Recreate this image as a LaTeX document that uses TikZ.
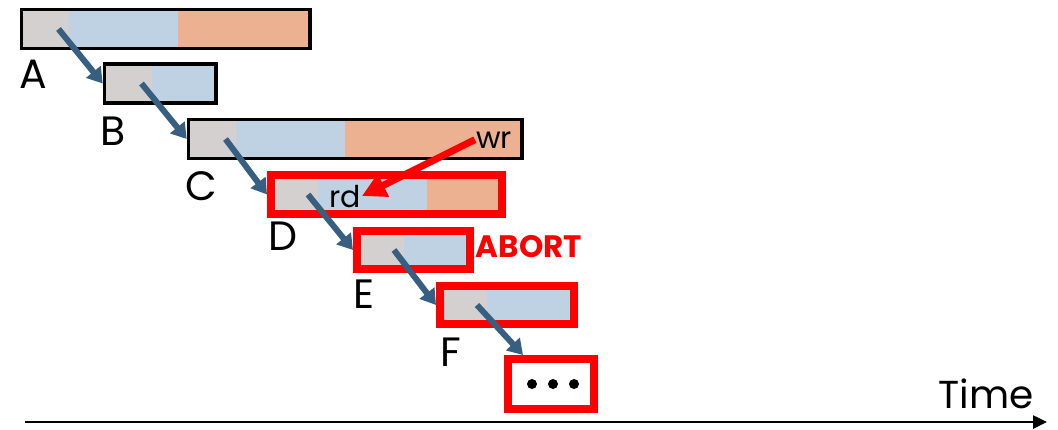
\documentclass[tikz,border=0pt]{standalone}
\usepackage{fontspec}
\setmainfont{Poppins}
\usetikzlibrary{positioning,fit,arrows.meta}

\definecolor{startgray}{RGB}{213,208,208}
\definecolor{readblue}{RGB}{190,210,228}
\definecolor{writeorange}{RGB}{235,177,145}
\definecolor{hopblue}{RGB}{55,95,130}

\begin{document}
\begin{tikzpicture}[x=1pt, y=-1pt,
    seg/.style={rectangle, inner sep=0pt, outer sep=0pt, minimum height=39pt},
    st/.style={seg, fill=startgray, minimum width=47pt, anchor=west},
    rds/.style={seg, fill=readblue},
    wrs/.style={seg, fill=writeorange},
    txn/.style={draw=black, line width=3.5pt, inner sep=0pt},
    aborted/.style={draw=red, line width=8pt, inner sep=0pt},
    joblabel/.style={font=\fontsize{41}{45}\selectfont, anchor=base, inner sep=0pt},
    opname/.style={font=\fontsize{30}{34}\selectfont, anchor=base, inner sep=1pt},
    hop/.style={-{Triangle[length=15pt,width=18pt]}, line width=6pt, draw=hopblue},
    conflict/.style={-{Triangle[length=24pt,width=24pt]}, line width=7pt, draw=red}]
  \useasboundingbox (0,0) rectangle (1058,429);

  % committed transactions
  \node [st] (A1) at (21.5,29) {};
  \node [rds, minimum width=109pt, right=0pt of A1] (A2) {};
  \node [wrs, minimum width=132.5pt, right=0pt of A2] (A3) {};
  \node [txn, fit=(A1)(A3)] (A) {};

  \node [st] (B1) at (104.5,83.5) {};
  \node [rds, minimum width=64.5pt, right=0pt of B1] (B2) {};
  \node [txn, fit=(B1)(B2)] (B) {};

  \node [st] (C1) at (188.5,139) {};
  \node [rds, minimum width=109pt, right=0pt of C1] (C2) {};
  \node [wrs, minimum width=177.5pt, right=0pt of C2] (C3) {};
  \node [txn, fit=(C1)(C3)] (C) {};

  % aborted ones
  \node [st] (D1) at (271,194.5) {};
  \node [rds, minimum width=109pt, right=0pt of D1] (D2) {};
  \node [wrs, minimum width=75pt, right=0pt of D2] (D3) {};
  \node [aborted, fit=(D1)(D3)] (D) {};

  \node [st, minimum height=38pt] (E1) at (357,250) {};
  \node [rds, minimum height=38pt, minimum width=66pt, right=0pt of E1] (E2) {};
  \node [aborted, fit=(E1)(E2)] (E) {};

  \node [st, minimum height=38pt] (F1) at (440,305) {};
  \node [rds, minimum height=38pt, minimum width=87pt, right=0pt of F1] (F2) {};
  \node [aborted, fit=(F1)(F2)] (F) {};

  \node [aborted, fill=white, minimum width=86pt, minimum height=50pt] (more) at (551,384) {};
  \foreach \dx in {-19,2,23}
    \fill ([xshift=\dx pt]more.center) circle (5pt);

  % names
  \node [joblabel] (labA) at (33,88) {A};
  \node [joblabel] (labB) at (113,145) {B};
  \node [joblabel] (labC) at (201,200) {C};
  \node [joblabel] (labD) at (283,250) {D};
  \node [joblabel] (labE) at (364,308) {E};
  \node [joblabel] (labF) at (451,366) {F};

  \node [opname] (wr) at (494,148) {wr};
  \node [opname] (rd) at (345,207) {rd};
  \node [anchor=base, text=red, font=\fontsize{31}{35}\selectfont\bfseries] (abort) at (529,257) {ABORT};

  % dependencies
  \draw [hop] ([xshift=-10pt]A1.east) -- (B.west);
  \draw [hop] ([xshift=-10pt]B1.east) -- (C.west);
  \draw [hop] ([xshift=-10pt]C1.east) -- (D.west);
  \draw [hop] ([xshift=-10pt]D1.east) -- (E.west);
  \draw [hop] ([xshift=-10pt]E1.east) -- (F.west);
  \draw [hop] ([xshift=-10pt]F1.east) -- ([xshift=-28pt]more.north);

  \draw [conflict] (wr.west) -- (rd.east);

  % time axis
  \coordinate (t0) at (25,422);
  \coordinate (t1) at (1047,422);
  \draw [-{Triangle[length=14pt,width=13pt]}, line width=2.5pt] (t0) -- (t1);
  \node [anchor=base, font=\fontsize{39}{43}\selectfont] (time) at (986,408) {Time};
\end{tikzpicture}
\end{document}
